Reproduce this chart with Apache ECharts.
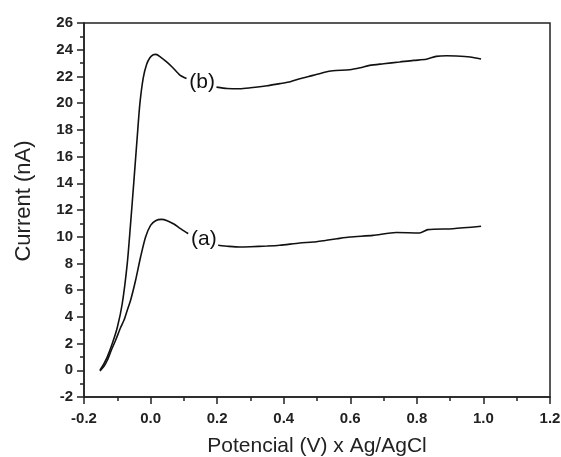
<!DOCTYPE html>
<html>
<head>
<meta charset="utf-8">
<script src="https://cdn.jsdelivr.net/npm/echarts@6/dist/echarts.min.js"></script>
<style>
  html, body { margin: 0; padding: 0; background: #fff; }
  #main { width: 561px; height: 457px; }
</style>
</head>
<body>
<div id="main"></div>
<script>
// curve (b) - potencial (V) and current (nA); null = gap for the label
var xB = [-0.152, -0.14, -0.13, -0.115, -0.1, -0.085, -0.07, -0.06, -0.05, -0.04, -0.032, -0.022, -0.012, -0.002, 0.008, 0.016, 0.03, 0.05, 0.067, 0.088, 0.108,
  0.155,
  0.198, 0.23, 0.268, 0.3, 0.35, 0.388, 0.42, 0.448, 0.488, 0.52, 0.548, 0.598, 0.63, 0.658, 0.7, 0.748, 0.79, 0.828, 0.858, 0.89, 0.918, 0.96, 0.993]
var yB = [0.0, 0.5, 1.0, 2.0, 3.2, 5.0, 8.0, 11.0, 14.2, 17.5, 20.0, 21.9, 22.9, 23.4, 23.62, 23.65, 23.45, 23.05, 22.65, 22.1, 21.85,
  null,
  21.2, 21.1, 21.08, 21.15, 21.3, 21.46, 21.6, 21.83, 22.08, 22.3, 22.43, 22.5, 22.65, 22.83, 22.95, 23.08, 23.2, 23.28, 23.5, 23.55, 23.53, 23.45, 23.3]

// curve (a)
var xA = [-0.152, -0.14, -0.13, -0.118, -0.105, -0.09, -0.08, -0.07, -0.06, -0.045, -0.03, -0.015, 0.0, 0.015, 0.033, 0.05, 0.07, 0.09, 0.113,
  0.158,
  0.203, 0.235, 0.268, 0.3, 0.35, 0.388, 0.448, 0.488, 0.528, 0.56, 0.598, 0.668, 0.738, 0.808, 0.833, 0.908, 0.993]
var yA = [-0.05, 0.3, 0.75, 1.5, 2.25, 3.2, 3.74, 4.5, 5.24, 6.74, 8.48, 9.98, 10.85, 11.2, 11.3, 11.2, 10.95, 10.6, 10.23,
  null,
  9.36, 9.28, 9.23, 9.25, 9.3, 9.36, 9.53, 9.6, 9.73, 9.85, 9.98, 10.1, 10.31, 10.28, 10.53, 10.6, 10.78]

// curve labels: [name, x, y]
var labelB = ['(b)', 0.155, 21.55]
var labelA = ['(a)', 0.16, 9.85]

function pairs(xs, ys) {
  return xs.map(function (x, i) {
    return [x, ys[i] === null ? '-' : ys[i]]
  })
}

function curve(name, xs, ys, lab) {
  return {
    name: name,
    type: 'line',
    data: pairs(xs, ys),
    showSymbol: false,
    smooth: 0.25,
    connectNulls: false,
    animation: false,
    lineStyle: { color: '#111', width: 1.6 },
    markPoint: {
      symbol: 'circle',
      symbolSize: 1,
      itemStyle: { color: 'rgba(0,0,0,0)' },
      label: {
        show: true,
        position: 'inside',
        formatter: lab[0],
        color: '#111',
        fontSize: 21,
        fontFamily: 'Liberation Sans'
      },
      data: [{ coord: [lab[1], lab[2]] }]
    }
  }
}

var chart = echarts.init(document.getElementById('main'))
var axisCol = '#222'
chart.setOption({
  backgroundColor: '#fff',
  animation: false,
  grid: {
    left: 84, right: 11, top: 23, bottom: 60,
    outerBoundsMode: 'none',
    containLabel: false,
    show: true, borderColor: axisCol, borderWidth: 1.5
  },
  xAxis: {
    type: 'value',
    min: -0.2, max: 1.2, interval: 0.2,
    name: 'Potencial (V) x Ag/AgCl',
    nameLocation: 'middle',
    nameGap: 39,
    nameTextStyle: { fontSize: 21, color: '#222', fontFamily: 'Liberation Sans' },
    axisLine: { onZero: false, lineStyle: { color: axisCol, width: 1.5 } },
    axisTick: { length: 7, lineStyle: { color: axisCol, width: 1.5 } },
    minorTick: { show: true, splitNumber: 2, length: 4, lineStyle: { color: axisCol, width: 1.5 } },
    splitLine: { show: false },
    axisLabel: {
      margin: 14, fontSize: 15, fontWeight: 'bold', color: '#222', fontFamily: 'Liberation Sans',
      formatter: function (v) { return v.toFixed(1) }
    }
  },
  yAxis: {
    type: 'value',
    min: -2, max: 26, interval: 2,
    name: 'Current (nA)',
    nameLocation: 'middle',
    nameGap: 49,
    nameTextStyle: { fontSize: 22, color: '#222', fontFamily: 'Liberation Sans', padding: [0, 0, 0, 18] },
    axisLine: { onZero: false, lineStyle: { color: axisCol, width: 1.5 } },
    axisTick: { length: 7, lineStyle: { color: axisCol, width: 1.5 } },
    minorTick: { show: true, splitNumber: 2, length: 4, lineStyle: { color: axisCol, width: 1.5 } },
    splitLine: { show: false },
    axisLabel: { margin: 11, fontSize: 15, fontWeight: 'bold', color: '#222', fontFamily: 'Liberation Sans' }
  },
  series: [
    curve('b', xB, yB, labelB),
    curve('a', xA, yA, labelA)
  ]
})
</script>
</body>
</html>
